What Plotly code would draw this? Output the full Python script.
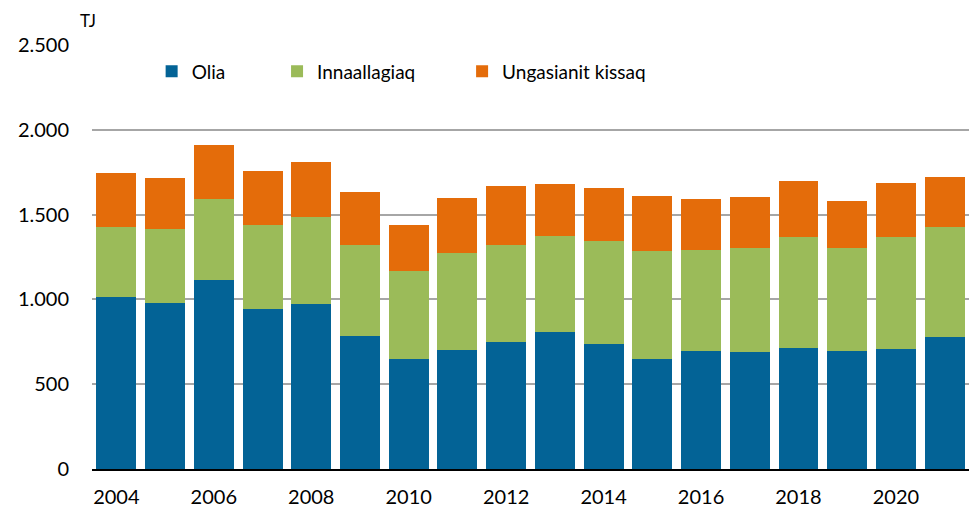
import plotly.graph_objects as go

years = list(range(2004, 2022))
olia = [1016, 980, 1112, 943, 974, 787, 646, 699, 750, 805, 740, 651, 693, 689, 716, 697, 707, 779]
innaallagiaq = [413, 437, 481, 496, 514, 536, 523, 576, 569, 571, 606, 632, 600, 612, 654, 604, 659, 646]
ungasianit = [317, 301, 320, 317, 323, 311, 270, 323, 350, 305, 311, 327, 301, 301, 331, 282, 323, 297]

series = [
    ("Olia", olia, "#036396", "legend", 0.068),
    ("Innaallagiaq", innaallagiaq, "#9BBB59", "legend2", 0.211),
    ("Ungasianit kissaq", ungasianit, "#E46C0A", "legend3", 0.422),
]

FONT = "Lato, 'Liberation Sans', sans-serif"

fig = go.Figure()
for name, vals, color, leg, _ in series:
    fig.add_trace(go.Bar(x=years, y=vals, name=name, marker_color=color,
                         marker_line_width=0, legend=leg, showlegend=True))

legend_style = dict(orientation="h", y=0.938, yanchor="middle", xanchor="left",
                    bgcolor="rgba(0,0,0,0)", font=dict(size=19, color="#000"),
                    itemwidth=30)
fig.update_layout(
    barmode="stack",
    bargap=0.18,
    showlegend=True,
    width=976, height=509,
    margin=dict(l=92, r=7, t=45, b=40),
    paper_bgcolor="white", plot_bgcolor="white",
    separators=",.",
    font=dict(family=FONT, size=19, color="#000"),
    legend=dict(x=series[0][4], **legend_style),
    legend2=dict(x=series[1][4], **legend_style),
    legend3=dict(x=series[2][4], **legend_style),
    xaxis=dict(range=[2003.5, 2021.5], tickvals=list(range(2004, 2022, 2)),
               showgrid=False, showline=True, linecolor="#000", linewidth=2,
               ticks="", tickfont=dict(size=20), ticklabelstandoff=9,
               automargin=False),
    yaxis=dict(range=[0, 2500], dtick=500, tickformat=",d", showgrid=True,
               gridcolor="#A6A6A6", gridwidth=1.5, zeroline=False,
               ticks="", tickfont=dict(size=20), ticklabelstandoff=22,
               automargin=False),
    annotations=[dict(text="TJ", xref="paper", yref="paper", x=-0.004, y=1.0,
                      yshift=25, xanchor="center", yanchor="middle",
                      showarrow=False, font=dict(size=17, color="#000"))],
)

# page body has a default 8px margin; drop it so the figure fills the window
fig.write_html("out.html", config={"displayModeBar": False},
               post_script="document.body.style.margin='0';")
